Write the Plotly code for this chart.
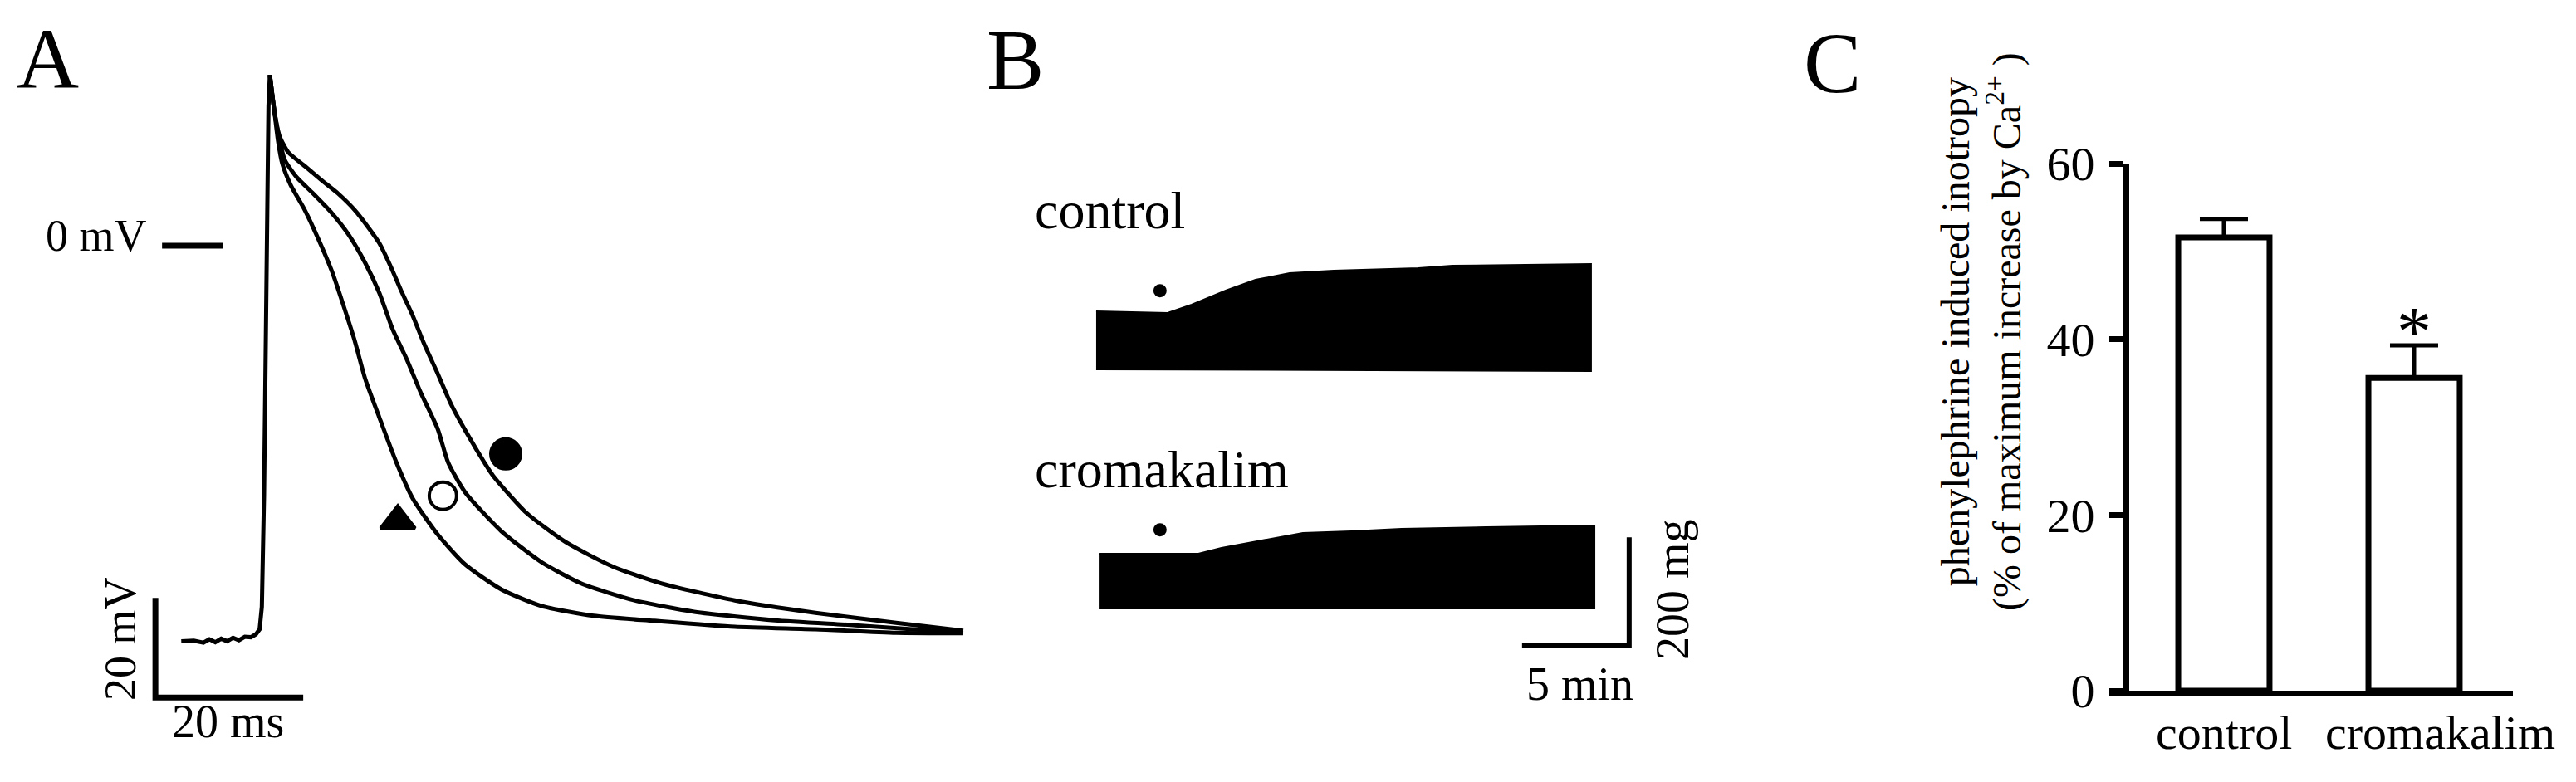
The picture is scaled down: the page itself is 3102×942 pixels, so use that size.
import plotly.graph_objects as go

W, H = 3102, 942
OFF = 8  # the page body margin shifts the figure by this much
FONT = "Liberation Serif"

# ---------------- panel A: action potentials (time in ms, voltage in mV) ----------------
foot_t = [-11.2, -9.5, -8.2, -7.4, -6.6, -5.8, -5.0, -4.2, -3.4, -2.6, -1.8, -1.1, -0.6, -0.3, 0.0, 0.3, 0.6, 0.79]
foot_v = [-79.4, -79.3, -79.7, -79.0, -79.6, -78.9, -79.4, -78.7, -79.2, -78.5, -78.6, -78.0, -77.0, -72.5, -50.0, 0.0, 28.0, 34.3]

slow_t = [0.79, 1.4, 2.1, 3.26, 5.51, 7.75, 10.0, 12.25, 14.04, 15.6, 17.08, 18.54, 20.1, 21.6, 23.5, 25.3,
          27.5, 29.8, 31.0, 35.4, 40.8, 47.3, 53.8, 63.7, 74.6, 85.5, 94.6]
slow_v = [34.3, 27.0, 22.0, 18.8, 16.0, 13.2, 10.5, 7.2, 3.8, 0.5, -4.0, -9.0, -14.0, -19.5, -25.7, -31.8,
          -37.8, -43.5, -46.2, -53.5, -59.5, -64.5, -67.8, -71.2, -73.7, -75.7, -77.3]

mid_t = [0.79, 1.4, 2.13, 2.81, 4.38, 6.63, 9.21, 11.46, 13.7, 15.6, 17.4, 19.3, 21.2, 23.5, 24.9, 27.2,
         32.1, 37.5, 42.9, 50.1, 58.2, 69.1, 80.0, 94.6]
mid_v = [34.3, 27.0, 21.0, 17.2, 13.8, 10.5, 6.5, 2.2, -3.5, -9.5, -16.8, -22.8, -29.5, -36.8, -43.5, -49.5,
         -57.3, -63.5, -67.8, -71.2, -73.5, -75.2, -76.2, -77.7]

fast_t = [0.79, 1.4, 1.9, 2.47, 3.6, 5.5, 7.3, 9.2, 10.7, 12.25, 13.7, 15.6, 17.9, 20.1, 23.4, 27.2, 32.1,
          37.5, 44.6, 52.8, 63.7, 74.6, 85.5, 94.6]
fast_v = [34.3, 27.0, 21.0, 16.5, 12.2, 7.2, 1.5, -5.2, -11.8, -19.0, -26.8, -34.5, -43.5, -50.7, -57.8,
          -64.0, -69.0, -72.3, -74.3, -75.3, -76.5, -77.0, -77.7, -77.8]

symbol_t = [18.1, 24.2, 32.7]
symbol_v = [-55.2, -50.2, -41.8]
symbol_kind = ["triangle-up", "circle-open", "circle"]

# ---------------- panel B: contraction traces (time in min, tension in mg) ----------------
ctrl_top_t = [0.0, 1.8, 3.33, 4.46, 6.05, 7.44, 9.03, 11.09, 15.04, 16.63, 20.0, 23.1]
ctrl_top = [107.8, 106.5, 104.7, 120.1, 146.3, 166.3, 178.6, 183.3, 187.9, 192.5, 194.0, 195.6]
ctrl_bot_t = [0.0, 8.0, 16.0, 23.1]
ctrl_bot = [0.0, -0.8, -1.5, -3.0]

crom_top_t = [0.16, 4.77, 5.85, 7.91, 9.65, 11.9, 14.26, 18.22, 23.26]
crom_top = [101.6, 101.6, 112.4, 127.8, 140.1, 143.2, 147.8, 150.9, 154.0]
crom_bot_t = [0.16, 12.0, 23.26]
crom_bot = [0.0, -0.5, 0.0]

drug_t = 2.98          # phenylephrine application (dot)
drug_mg = 146.0

# ---------------- panel C: bar chart ----------------
groups = ["control", "cromakalim"]
means = [51.6, 35.6]
sems = [2.1, 3.7]


def px(x):
    return (x - OFF) / W


def py(y):
    return 1 - (y - OFF) / H


fig = go.Figure()
black = "black"

# panel A traces
fig.add_trace(go.Scatter(x=foot_t, y=foot_v, mode="lines", line=dict(color=black, width=5),
                         xaxis="x", yaxis="y"))
for tt, vv in [(slow_t, slow_v), (mid_t, mid_v), (fast_t, fast_v)]:
    fig.add_trace(go.Scatter(x=tt, y=vv, mode="lines",
                             line=dict(color=black, width=5, shape="spline", smoothing=0.6),
                             xaxis="x", yaxis="y"))
fig.add_trace(go.Scatter(x=symbol_t, y=symbol_v, mode="markers",
                         marker=dict(symbol=symbol_kind, size=[36, 33, 36], color=black, opacity=1,
                                     line=dict(color=black, width=4)),
                         xaxis="x", yaxis="y"))
# 0 mV mark and scale bars (20 ms, 20 mV)
fig.add_trace(go.Scatter(x=[-13.8, -5.6], y=[0, 0], mode="lines", line=dict(color=black, width=7),
                         xaxis="x", yaxis="y"))
sb_t0, sb_v0 = -14.7, -90.7
fig.add_trace(go.Scatter(x=[sb_t0, sb_t0, sb_t0 + 20], y=[sb_v0 + 20, sb_v0, sb_v0], mode="lines",
                         line=dict(color=black, width=7), xaxis="x", yaxis="y"))

# panel B traces (filled envelopes)
fig.add_trace(go.Scatter(x=ctrl_top_t + ctrl_bot_t[::-1], y=ctrl_top + ctrl_bot[::-1], mode="lines",
                         fill="toself", fillcolor=black, line=dict(color=black, width=2),
                         xaxis="x2", yaxis="y2"))
fig.add_trace(go.Scatter(x=crom_top_t + crom_bot_t[::-1], y=crom_top + crom_bot[::-1], mode="lines",
                         fill="toself", fillcolor=black, line=dict(color=black, width=2),
                         xaxis="x2", yaxis="y3"))
fig.add_trace(go.Scatter(x=[drug_t], y=[drug_mg], mode="markers", marker=dict(color=black, size=16),
                         xaxis="x2", yaxis="y2"))
fig.add_trace(go.Scatter(x=[drug_t], y=[drug_mg], mode="markers", marker=dict(color=black, size=16),
                         xaxis="x2", yaxis="y3"))
bt0, bm0 = 24.88, -67.8
fig.add_trace(go.Scatter(x=[bt0 - 5, bt0, bt0], y=[bm0, bm0, bm0 + 200], mode="lines",
                         line=dict(color=black, width=6), xaxis="x2", yaxis="y3"))

# panel C bars
fig.add_trace(go.Bar(x=[0, 1], y=means, width=0.48,
                     marker=dict(color="white", line=dict(color=black, width=7)),
                     error_y=dict(type="data", array=sems, arrayminus=[0, 0], symmetric=False,
                                  color=black, thickness=5, width=29),
                     xaxis="x3", yaxis="y4"))

hidden = dict(visible=False, fixedrange=True)
fig.update_layout(
    template="none",
    width=W, height=H, autosize=False,
    margin=dict(l=0, r=0, t=0, b=0, pad=0, autoexpand=False),
    paper_bgcolor="white", plot_bgcolor="rgba(0,0,0,0)",
    showlegend=False,
    font=dict(family=FONT, color=black, size=56),
    xaxis=dict(domain=[px(100), px(1200)], range=[-24.49, 99.1], anchor="y", **hidden),
    yaxis=dict(domain=[py(900), py(40)], range=[-100.67, 42.67], anchor="x", **hidden),
    xaxis2=dict(domain=[px(1200), px(2080)], range=[-4.65, 29.46], anchor="y2", **hidden),
    yaxis2=dict(domain=[py(480), py(200)], range=[-53.9, 377.3], anchor="x2", **hidden),
    yaxis3=dict(domain=[py(900), py(500)], range=[-257.2, 358.8], anchor="x2", **hidden),
    xaxis3=dict(domain=[px(2540), px(3026)], range=[-0.6026, 1.5197], anchor="y4",
                showline=True, linewidth=7, linecolor=black, showticklabels=False,
                ticks="", showgrid=False, zeroline=False, fixedrange=True, automargin=False),
    yaxis4=dict(domain=[py(832), py(197)], range=[0, 60], anchor="free", position=px(2560),
                showline=True, linewidth=7, linecolor=black, ticks="outside", ticklen=17,
                tickwidth=7, tickcolor=black, tickvals=[0, 20, 40, 60], ticklabelstandoff=6,
                tickfont=dict(family=FONT, size=58, color=black),
                showgrid=False, zeroline=False, fixedrange=True, automargin=False),
)

ann = []


def label(text, x, y, size=56, xanchor="center", angle=0, **kw):
    ann.append(dict(text=text, x=x, y=y, xref=kw.pop("xref", "paper"), yref=kw.pop("yref", "paper"),
                    xanchor=xanchor, yanchor="middle", showarrow=False, textangle=angle,
                    borderpad=0, font=dict(family=FONT, size=size, color=black), **kw))


label("A", px(57), py(71), size=104)
label("B", px(1222), py(72), size=104)
label("C", px(2206), py(76), size=104)
label("0 mV", px(178), py(284), size=54, xanchor="right")
label("20 mV", px(145), py(770), size=54, angle=-90)
label("20 ms", px(274), py(869), size=56)
label("control", px(1245), py(254), size=64, xanchor="left")
label("cromakalim", px(1245), py(565), size=64, xanchor="left")
label("5 min", px(1902), py(824), size=56)
label("200 mg", px(2014), py(710), size=56, angle=-90)
label("phenylephrine induced inotropy<br>(% of maximum increase by Ca<sup>2+</sup> )",
      px(2386), py(400), size=48, angle=-90)
for i, g in enumerate(groups):
    label(g, i, py(882), size=58, xref="x3", xshift=[0, 32][i])
label("*", 1, means[1] + sems[1] + 1.6, size=84, xref="x3", yref="y4")

fig.update_layout(annotations=ann)
fig.write_html("out.html")
